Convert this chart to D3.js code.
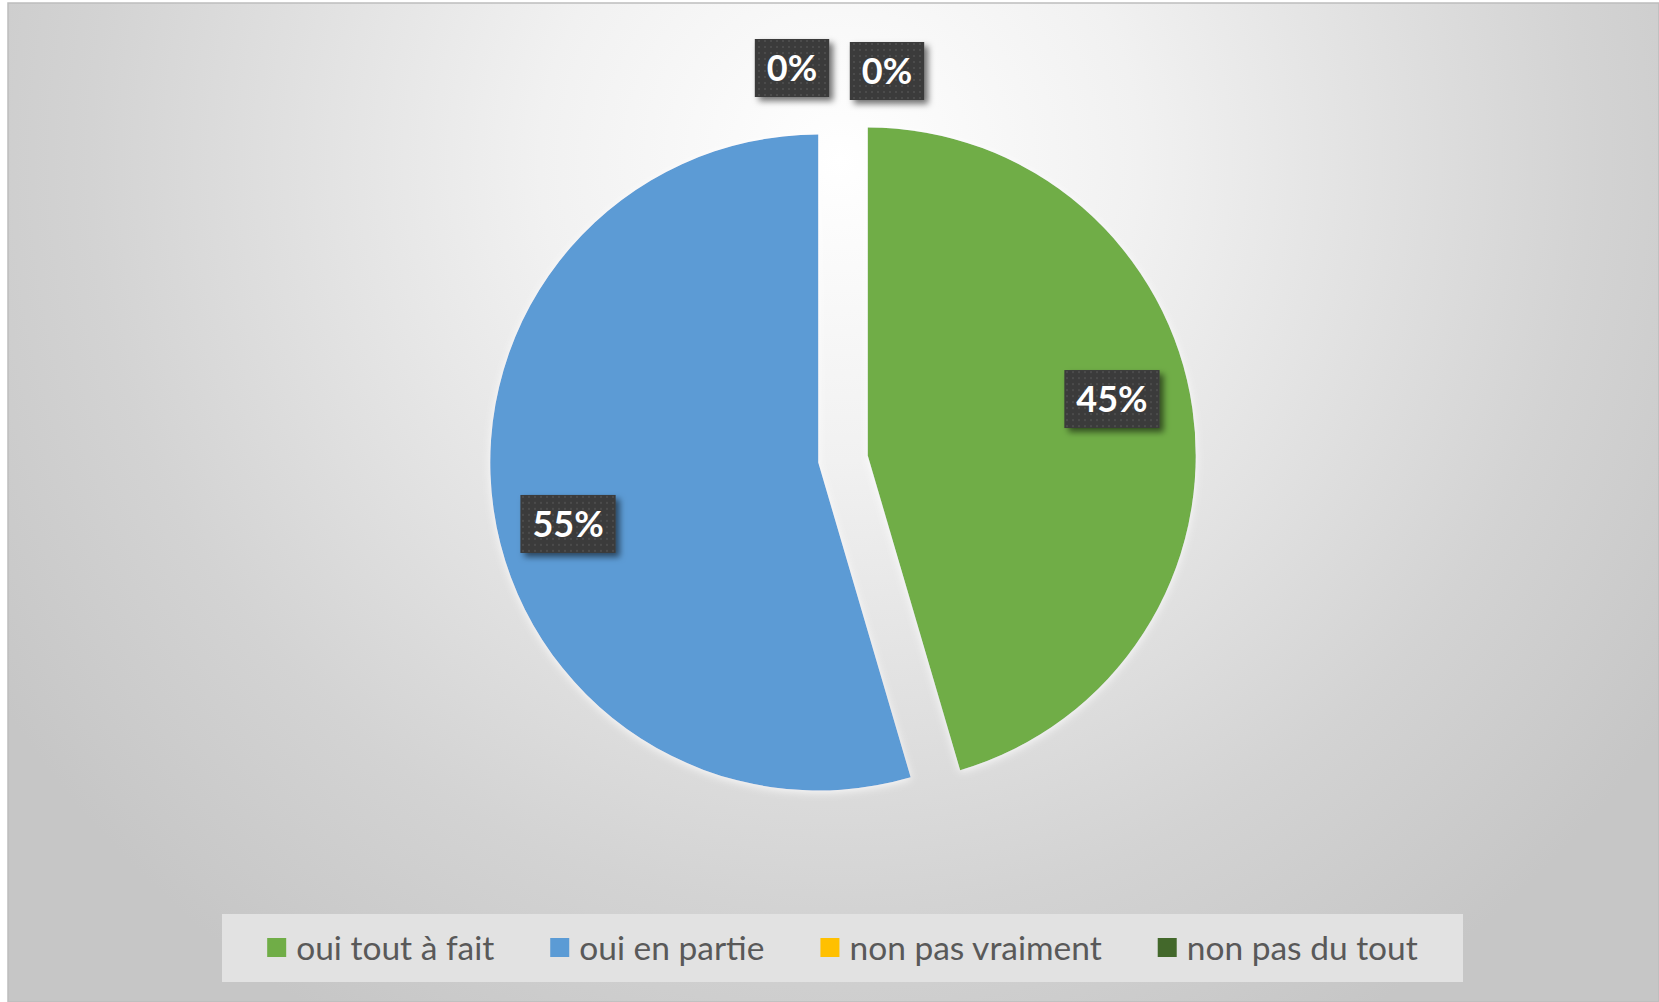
<!DOCTYPE html>
<html>
<head>
<meta charset="utf-8">
<script src="https://cdn.jsdelivr.net/npm/d3@7"></script>
<style>
  body { margin: 0; background: #fff; }
  svg { display: block; }
</style>
</head>
<body>
<div id="chart"></div>
<script>
// data (slice angle fits 5 / 6 answers -> 45% / 55%)
var categories = ["oui tout à fait", "oui en partie", "non pas vraiment", "non pas du tout"];
var values = [5, 6, 0, 0];
var colors = ["#70ad47", "#5b9bd5", "#ffc000", "#43682b"];

var width = 1659, height = 1002;
var cx = 843, cy = 459, radius = 328, explode = 25;

var svg = d3.select("#chart").append("svg")
    .attr("width", width)
    .attr("height", height);

var defs = svg.append("defs");

var bg = defs.append("radialGradient")
    .attr("id", "bg")
    .attr("gradientUnits", "userSpaceOnUse")
    .attr("cx", 840).attr("cy", 160).attr("r", 1000);
bg.append("stop").attr("offset", 0).attr("stop-color", "#ffffff");
bg.append("stop").attr("offset", 0.3).attr("stop-color", "#f1f1f1");
bg.append("stop").attr("offset", 0.75).attr("stop-color", "#d3d3d3");
bg.append("stop").attr("offset", 1).attr("stop-color", "#c6c6c6");

var shadow = defs.append("filter").attr("id", "shadow")
    .attr("x", "-30%").attr("y", "-30%").attr("width", "160%").attr("height", "160%");
shadow.append("feDropShadow")
    .attr("dx", 4).attr("dy", 4).attr("stdDeviation", 3)
    .attr("flood-color", "#000").attr("flood-opacity", 0.55);

var glow = defs.append("filter").attr("id", "glow")
    .attr("x", "-10%").attr("y", "-10%").attr("width", "120%").attr("height", "120%");
glow.append("feDropShadow")
    .attr("dx", 0).attr("dy", 2).attr("stdDeviation", 4)
    .attr("flood-color", "#ffffff").attr("flood-opacity", 0.8);

// dotted texture for the label boxes
var pat = defs.append("pattern").attr("id", "dots")
    .attr("patternUnits", "userSpaceOnUse")
    .attr("width", 6).attr("height", 6);
pat.append("rect").attr("width", 6).attr("height", 6).attr("fill", "#3b3b3b");
pat.append("circle").attr("cx", 3).attr("cy", 3).attr("r", 1).attr("fill", "#505050");

// chart area
svg.append("rect")
    .attr("x", 8).attr("y", 3)
    .attr("width", width - 8).attr("height", height - 3)
    .attr("fill", "url(#bg)")
    .attr("stroke", "#bdbdbd")
    .attr("stroke-width", 1.5);

var pie = d3.pie().sort(null).value(function(d) { return d; });
var arcs = pie(values);
var arc = d3.arc().innerRadius(0).outerRadius(radius);
var total = d3.sum(values);

var g = svg.append("g").attr("transform", "translate(" + cx + "," + cy + ")");

function offset(d, dist) {
    var a = (d.startAngle + d.endAngle) / 2;
    return [Math.sin(a) * dist, -Math.cos(a) * dist];
}

g.selectAll("path")
    .data(arcs.filter(function(d) { return d.value > 0; }))
    .enter()
    .append("path")
    .attr("d", arc)
    .attr("fill", function(d) { return colors[d.index]; })
    .attr("filter", "url(#glow)")
    .attr("transform", function(d) {
        var o = offset(d, explode);
        return "translate(" + o[0] + "," + o[1] + ")";
    });

// data labels
var fmt = function(v) { return Math.round(v / total * 100) + "%"; };
var zeroCount = 0;
var labels = g.selectAll("g.lbl")
    .data(arcs)
    .enter()
    .append("g")
    .attr("class", "lbl")
    .attr("transform", function(d) {
        var p;
        if (d.value > 0) {
            p = offset(d, radius * 0.78 + explode);
            if (d.index == 0) { p[0] -= 9; p[1] -= 20; }
            if (d.index == 1) { p[0] += 3; p[1] += 25; }
        } else {
            // zero slices sit at the top, outside, side by side
            var side = zeroCount++ == 0 ? -51 : 44;
            p = [side, -(radius + 63) + (side > 0 ? 3 : 0)];
        }
        return "translate(" + p[0] + "," + p[1] + ")";
    });

labels.append("rect").attr("class", "box");
labels.append("text")
    .attr("text-anchor", "middle")
    .attr("dy", "0.36em")
    .attr("fill", "#ffffff")
    .style("font-family", "Lato, 'Open Sans', sans-serif")
    .style("font-weight", "bold")
    .style("font-size", "36px")
    .text(function(d) { return fmt(d.value); });

labels.each(function() {
    var grp = d3.select(this);
    var bb = grp.select("text").node().getBBox();
    grp.select("rect")
        .attr("x", bb.x - 12).attr("y", -29)
        .attr("width", bb.width + 24).attr("height", 58)
        .attr("fill", "url(#dots)")
        .attr("filter", "url(#shadow)");
});

// legend
var legend = svg.append("g");
legend.append("rect")
    .attr("x", 222).attr("y", 914)
    .attr("width", 1241).attr("height", 68)
    .attr("fill", "#e2e2e2");

var items = legend.selectAll("g.item")
    .data(categories)
    .enter()
    .append("g")
    .attr("class", "item");

items.append("rect")
    .attr("width", 19).attr("height", 19)
    .attr("y", 938)
    .attr("fill", function(d, i) { return colors[i]; });

items.append("text")
    .attr("x", 29)
    .attr("y", 948)
    .attr("dy", "0.35em")
    .attr("fill", "#595959")
    .style("font-family", "Lato, 'Open Sans', sans-serif")
    .style("font-size", "33.5px")
    .text(function(d) { return d; });

var gap = 56;
var widths = [];
items.each(function() {
    widths.push(29 + d3.select(this).select("text").node().getComputedTextLength());
});
var totalW = d3.sum(widths) + gap * (widths.length - 1);
var x0 = 222 + (1241 - totalW) / 2;
items.attr("transform", function(d, i) {
    var x = x0 + d3.sum(widths.slice(0, i)) + gap * i;
    return "translate(" + x + ",0)";
});
</script>
</body>
</html>
